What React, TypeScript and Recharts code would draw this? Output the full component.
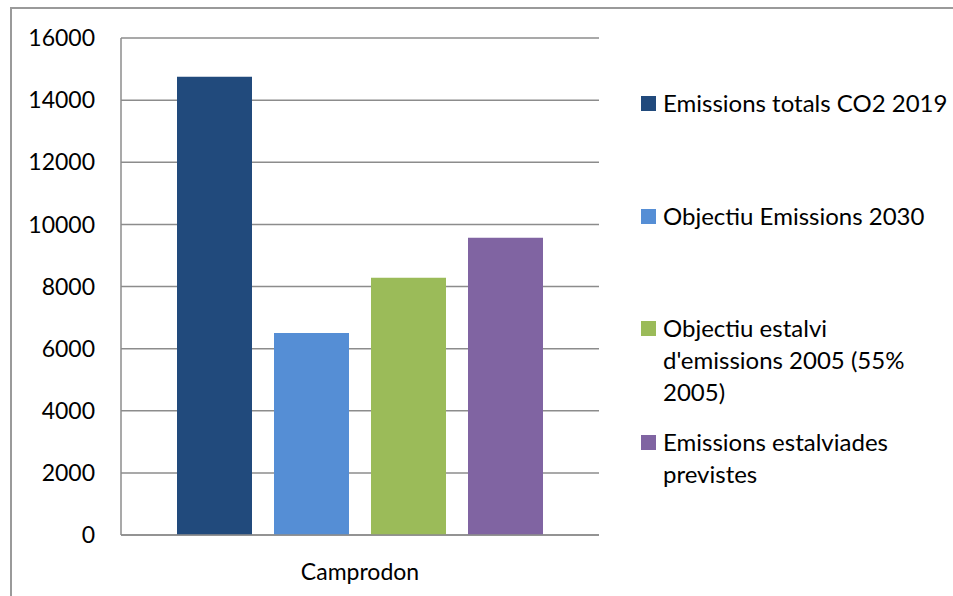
import React from "react";
import { BarChart, Bar, XAxis, YAxis, CartesianGrid, Legend } from "recharts";

const categories = ["Camprodon"];
const seriesNames = [
  "Emissions totals CO2 2019",
  "Objectiu Emissions 2030",
  "Objectiu estalvi d'emissions 2005 (55% 2005)",
  "Emissions estalviades previstes",
];
const emissionsTotals2019 = [14750];
const objectiuEmissions2030 = [6500];
const objectiuEstalvi2005 = [8280];
const emissionsEstalviades = [9570];
const yTicks = [0, 2000, 4000, 6000, 8000, 10000, 12000, 14000, 16000];

const seriesKeys = ["s0", "s1", "s2", "s3"];
const seriesValues = [emissionsTotals2019, objectiuEmissions2030, objectiuEstalvi2005, emissionsEstalviades];
const colors = ["#214a7c", "#558ed5", "#9bbb59", "#8064a2"];

const data = categories.map((c, i) => {
  const row: any = { name: c };
  seriesKeys.forEach((k, j) => {
    row[k] = seriesValues[j][i];
  });
  return row;
});

const FONT = "Lato, 'Open Sans', sans-serif";
const legendTops = [87, 200, 312, 426];

const renderLegend = (props: any) => {
  const payload = [...(props.payload || [])].sort(
    (a: any, b: any) => seriesNames.indexOf(a.value) - seriesNames.indexOf(b.value)
  );
  return (
    <div style={{ position: "relative", width: 300, height: 596, fontFamily: FONT }}>
      {payload.map((p: any, i: number) => (
        <div
          key={i}
          style={{
            position: "absolute",
            left: 0,
            top: legendTops[i],
            display: "flex",
            alignItems: "flex-start",
          }}
        >
          <div
            style={{
              width: 15,
              height: 15,
              background: p.color,
              marginTop: 9,
              marginRight: 7,
              flexShrink: 0,
            }}
          />
          <div
            style={{
              width: i === 0 ? 300 : 262,
              whiteSpace: i === 0 ? "nowrap" : "normal",
              fontSize: 24,
              lineHeight: "32px",
              color: "#000",
            }}
          >
            {p.value}
          </div>
        </div>
      ))}
    </div>
  );
};

export default function App() {
  return (
    <div
      style={{
        position: "absolute",
        left: 0,
        top: 0,
        width: 953,
        height: 596,
        overflow: "hidden",
        background: "#fff",
      }}
    >
      <div
        style={{
          position: "absolute",
          left: 10,
          top: 7,
          width: 1000,
          height: 700,
          border: "2px solid #9a9a9a",
        }}
      />
      <div style={{ position: "absolute", left: 0, top: 0 }}>
        <BarChart
          width={953}
          height={596}
          data={data}
          margin={{ top: 38, right: 54, bottom: 31, left: 0 }}
          barCategoryGap={56}
          barGap={22}
        >
          <CartesianGrid vertical={false} stroke="#8c8c8c" strokeWidth={1.5} />
          <XAxis
            dataKey="name"
            height={30}
            tickLine={false}
            axisLine={{ stroke: "#8c8c8c", strokeWidth: 1.5 }}
            tickSize={0}
            tickMargin={29}
            tick={{ fill: "#000", fontSize: 23, fontFamily: FONT }}
          />
          <YAxis
            width={121}
            domain={[0, 16000]}
            ticks={yTicks}
            tickLine={false}
            axisLine={{ stroke: "#8c8c8c", strokeWidth: 1.5 }}
            tickSize={0}
            tickMargin={26}
            interval={0}
            tick={{ fill: "#000", fontSize: 23, fontFamily: FONT }}
          />
          <Legend
            layout="vertical"
            align="right"
            verticalAlign="top"
            content={renderLegend}
            wrapperStyle={{ left: 641, top: 0, width: 300, height: 596 }}
          />
          {seriesKeys.map((k, j) => (
            <Bar key={k} dataKey={k} name={seriesNames[j]} fill={colors[j]} isAnimationActive={false} />
          ))}
        </BarChart>
      </div>
    </div>
  );
}
